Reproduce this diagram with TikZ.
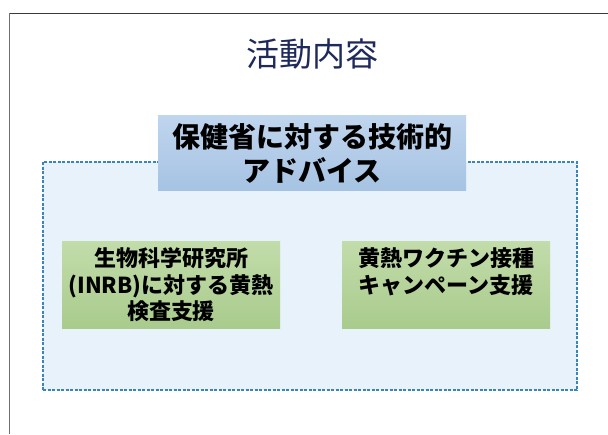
\documentclass[tikz,border=0pt]{standalone}
\usepackage{fontspec}
\newfontfamily\jp{Noto Sans CJK JP}
\definecolor{frameA}{HTML}{3A3A3A}
\definecolor{frameB}{HTML}{707070}
\definecolor{titlec}{HTML}{1F2A5C}
\definecolor{areafill}{HTML}{E7F2FA}
\definecolor{dashc}{HTML}{3A84BC}
\definecolor{blueT}{HTML}{C0D5EE}
\definecolor{blueB}{HTML}{A6C3E3}
\definecolor{greenT}{HTML}{C2DCAA}
\definecolor{greenB}{HTML}{A9CB8D}
\tikzset{
  bluebox/.style={top color=blueT, bottom color=blueB, draw=none, minimum width=308pt, minimum height=75pt, inner sep=0pt, align=center, font=\jp\bfseries\fontsize{28}{34}\selectfont, text=black},
  greenbox/.style={top color=greenT, bottom color=greenB, draw=none, minimum height=87pt, inner sep=0pt, align=center, font=\jp\bfseries\fontsize{22}{26.5}\selectfont, text=black},
  areabox/.style={fill=areafill, draw=dashc, line width=1.5pt, dash pattern=on 3pt off 1.5pt},
}
\begin{document}
\begin{tikzpicture}[x=1pt,y=-1pt]
\useasboundingbox (0,0) rectangle (608,434);
\fill[white] (0,0) rectangle (608,434);
% slide frame
\draw[frameA, line width=1pt] (9,13) -- (608,13);
\draw[frameB, line width=1pt] (9,13) -- (9,434);
% title
\node[font=\jp\fontsize{33}{38}\selectfont, text=titlec] (title) at (312,54) {活動内容};
% dashed area
\node[areabox, minimum width=534pt, minimum height=228pt, inner sep=0pt] (area) at (310,276) {};
% blue box
\node[bluebox] (advice) at (312,153) {保健省に対する技術的\\アドバイス};
% green boxes
\node[greenbox, minimum width=218pt] (inrb) at (171,285) {生物科学研究所\\(INRB)に対する黄熱\\検査支援};
\node[greenbox, minimum width=208pt] (vacc) at (446,285) {黄熱ワクチン接種\\キャンペーン支援\\\phantom{支}};
\end{tikzpicture}
\end{document}
